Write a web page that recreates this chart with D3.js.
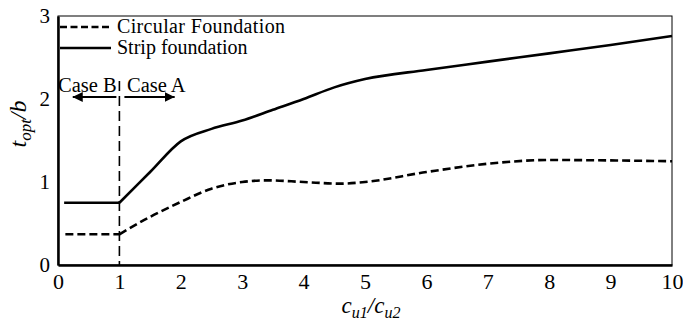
<!DOCTYPE html>
<html>
<head>
<meta charset="utf-8">
<script src="https://cdn.jsdelivr.net/npm/d3@7"></script>
<style>
  html, body { margin: 0; padding: 0; background: #fff; }
  svg text { font-family: "Liberation Serif", "Tinos", "Times New Roman", Times, "DejaVu Serif", serif; }
</style>
</head>
<body>
<svg id="chart" width="683" height="325"></svg>
<script>
// Strength ratio c_u1/c_u2 and optimal thickness ratio t_opt/b
const stripX = [0.1, 1, 1.5, 2, 2.5, 3, 3.5, 4, 4.5, 5, 6, 7, 8, 9, 10];
const stripY = [0.75, 0.75, 1.12, 1.49, 1.64, 1.74, 1.87, 2.0, 2.14, 2.24, 2.35, 2.45, 2.55, 2.65, 2.76];
const circX = [0.12, 1, 1.5, 2, 2.5, 3, 3.4, 4, 4.6, 5, 6, 7, 8, 9, 10];
const circY = [0.37, 0.37, 0.58, 0.76, 0.92, 1.0, 1.02, 1.0, 0.98, 1.0, 1.12, 1.22, 1.265, 1.26, 1.25];
const xTicks = [0, 1, 2, 3, 4, 5, 6, 7, 8, 9, 10];
const yTicks = [0, 1, 2, 3];
const boundaryX = 1;

const svg = d3.select("#chart");
const margin = { left: 58, top: 16, right: 11, bottom: 60 };
const W = 683, H = 325;
const x = d3.scaleLinear().domain([0, 10]).range([margin.left, W - margin.right]);
const y = d3.scaleLinear().domain([0, 3]).range([H - margin.bottom, margin.top]);

// frame: thin top/right, heavy left/bottom
svg.append("rect")
  .attr("x", x(0)).attr("y", y(3))
  .attr("width", x(10) - x(0)).attr("height", y(0) - y(3))
  .attr("fill", "none").attr("stroke", "#000").attr("stroke-width", 1);

// axes without tick marks
const xAxis = svg.append("g").attr("transform", `translate(0,${y(0)})`)
  .call(d3.axisBottom(x).tickValues(xTicks).tickSize(0).tickPadding(8).tickFormat(d3.format("d")));
const yAxis = svg.append("g").attr("transform", `translate(${x(0)},0)`)
  .call(d3.axisLeft(y).tickValues(yTicks).tickSize(0).tickPadding(8).tickFormat(d3.format("d")));
xAxis.attr("font-family", null).attr("font-size", 22);
yAxis.attr("font-family", null).attr("font-size", 21);
[xAxis, yAxis].forEach(g => {
  g.select(".domain").attr("stroke", "#000").attr("stroke-width", 2.5);
  g.selectAll("text").attr("fill", "#000");
});
yAxis.selectAll("text").attr("dy", "0.3em");

// series: flat part for c_u1/c_u2 <= 1, smooth curve beyond
function drawSeries(xs, ys, dash) {
  const pts = xs.map((v, i) => [v, ys[i]]);
  const flat = d3.line().x(d => x(d[0])).y(d => y(d[1]));
  const curve = d3.line().x(d => x(d[0])).y(d => y(d[1])).curve(d3.curveMonotoneX);
  [[flat, pts.filter(d => d[0] <= boundaryX)], [curve, pts.filter(d => d[0] >= boundaryX)]]
    .forEach(([gen, seg]) => {
      svg.append("path").attr("d", gen(seg))
        .attr("fill", "none").attr("stroke", "#000").attr("stroke-width", 2.6)
        .attr("stroke-dasharray", dash);
    });
}
drawSeries(circX, circY, "8,4");
drawSeries(stripX, stripY, null);

// boundary between the two cases
svg.append("line")
  .attr("x1", x(boundaryX)).attr("x2", x(boundaryX))
  .attr("y1", 81).attr("y2", y(0))
  .attr("stroke", "#000").attr("stroke-width", 1.6).attr("stroke-dasharray", "10,5");

// case arrows
svg.append("defs").append("marker")
  .attr("id", "head").attr("viewBox", "0 0 10 10").attr("refX", 10).attr("refY", 5)
  .attr("markerWidth", 5).attr("markerHeight", 5).attr("markerUnits", "strokeWidth")
  .attr("orient", "auto")
  .append("path").attr("d", "M0,0L10,5L0,10Z").attr("fill", "#000");
const arrowY = 97;
svg.append("line").attr("x1", x(boundaryX) - 3).attr("x2", x(0.24)).attr("y1", arrowY).attr("y2", arrowY)
  .attr("stroke", "#000").attr("stroke-width", 2).attr("marker-end", "url(#head)");
svg.append("line").attr("x1", x(boundaryX) + 5).attr("x2", x(1.9)).attr("y1", arrowY).attr("y2", arrowY)
  .attr("stroke", "#000").attr("stroke-width", 2).attr("marker-end", "url(#head)");
svg.append("text").attr("x", 58).attr("y", 92).attr("font-size", 20.5).text("Case B");
svg.append("text").attr("x", 127).attr("y", 92).attr("font-size", 20.5).text("Case A");

// legend
const legend = [
  { label: "Circular Foundation", dash: "7,3.5", yy: 27 },
  { label: "Strip foundation", dash: null, yy: 48 }
];
legend.forEach(d => {
  svg.append("line").attr("x1", 60).attr("x2", 111).attr("y1", d.yy).attr("y2", d.yy)
    .attr("stroke", "#000").attr("stroke-width", 2.6).attr("stroke-dasharray", d.dash);
  svg.append("text").attr("x", 117).attr("y", d.yy + 5.5).attr("font-size", 20)
    .attr("textLength", d.label === "Circular Foundation" ? 168 : null).text(d.label);
});

// axis titles
const xt = svg.append("text").attr("x", 371).attr("y", 313).attr("text-anchor", "middle")
  .attr("font-size", 23).attr("font-style", "italic");
xt.append("tspan").text("c");
xt.append("tspan").attr("font-size", 16).attr("dy", 5).text("u1");
xt.append("tspan").attr("dy", -5).text("/c");
xt.append("tspan").attr("font-size", 16).attr("dy", 5).text("u2");

const yt = svg.append("text").attr("transform", "translate(26,124) rotate(-90)")
  .attr("text-anchor", "middle").attr("font-size", 24).attr("font-style", "italic");
yt.append("tspan").text("t");
yt.append("tspan").attr("font-size", 17).attr("dy", 5).text("opt");
yt.append("tspan").attr("dy", -5).text("/b");
</script>
</body>
</html>
